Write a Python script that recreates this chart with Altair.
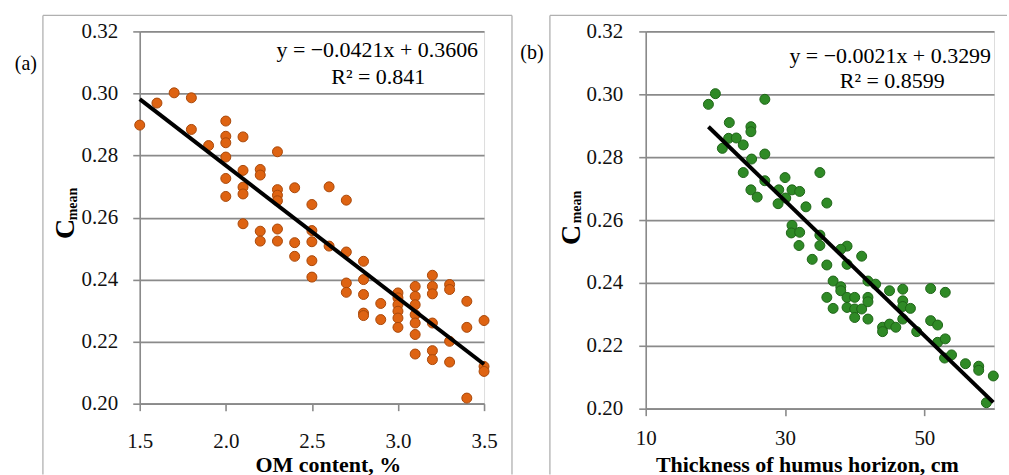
import altair as alt
import pandas as pd

# ---------------- data ----------------
om_content = [1.5, 1.6, 1.7, 1.8, 1.8, 1.9,
              2.0, 2.0, 2.0, 2.0, 2.0, 2.0,
              2.1, 2.1, 2.1, 2.1, 2.1,
              2.2, 2.2, 2.2, 2.2,
              2.3, 2.3, 2.3, 2.3, 2.3, 2.3,
              2.4, 2.4, 2.4,
              2.5, 2.5, 2.5, 2.5, 2.5,
              2.6, 2.6,
              2.7, 2.7, 2.7, 2.7,
              2.8, 2.8, 2.8, 2.8, 2.8,
              2.9, 2.9,
              3.0, 3.0, 3.0, 3.0, 3.0, 3.0,
              3.1, 3.1, 3.1, 3.1, 3.1, 3.1, 3.1,
              3.2, 3.2, 3.2, 3.2, 3.2, 3.2,
              3.3, 3.3, 3.3, 3.3,
              3.4, 3.4, 3.4,
              3.5, 3.5, 3.5]
cmean_a = [0.2898, 0.2969, 0.3002, 0.2986, 0.2884, 0.2832,
           0.2911, 0.2862, 0.2841, 0.2795, 0.2726, 0.2668,
           0.2860, 0.2752, 0.2698, 0.2676, 0.2580,
           0.2755, 0.2737, 0.2556, 0.2524,
           0.2812, 0.2690, 0.2672, 0.2654, 0.2563, 0.2524,
           0.2696, 0.2519, 0.2475,
           0.2642, 0.2558, 0.2522, 0.2461, 0.2408,
           0.2699, 0.2508,
           0.2656, 0.2489, 0.2389, 0.2359,
           0.2459, 0.2400, 0.2352, 0.2292, 0.2284,
           0.2323, 0.2271,
           0.2357, 0.2341, 0.2319, 0.2298, 0.2276, 0.2246,
           0.2378, 0.2346, 0.2319, 0.2287, 0.2260, 0.2223, 0.2160,
           0.2414, 0.2378, 0.2354, 0.2260, 0.2171, 0.2142,
           0.2384, 0.2368, 0.2201, 0.2134,
           0.2330, 0.2246, 0.2018,
           0.2268, 0.2120, 0.2104]

thickness = [19.0, 20.0, 27.1, 22.0, 21.0, 21.9, 23.0, 24.0, 25.1, 25.1,
             25.2, 27.1, 24.0, 25.1, 26.0, 27.1, 30.0, 29.1, 29.0, 30.1,
             31.0, 32.1, 33.0, 35.0, 36.0, 31.0, 30.9, 32.1, 32.0, 33.9,
             35.0, 35.0, 36.0, 36.9, 36.0, 36.9, 38.0, 38.0, 38.9, 38.0,
             38.9, 38.9, 38.9, 40.0, 40.0, 40.0, 41.0, 41.0, 41.9, 41.9,
             41.9, 41.9, 43.0, 44.0, 44.0, 45.0, 45.0, 45.9, 46.9, 46.9,
             46.9, 46.9, 48.0, 48.9, 50.9, 50.9, 51.9, 53.0, 51.9, 53.0,
             52.9, 53.9, 55.9, 57.8, 57.8, 59.9, 58.9]
cmean_b = [0.2968, 0.3002, 0.2984, 0.2910, 0.2828, 0.2860, 0.2861, 0.2839, 0.2897, 0.2881,
           0.2794, 0.2810, 0.2751, 0.2696, 0.2673, 0.2725, 0.2735, 0.2696, 0.2652, 0.2670,
           0.2696, 0.2691, 0.2642, 0.2751, 0.2654, 0.2583, 0.2559, 0.2561, 0.2519, 0.2475,
           0.2552, 0.2519, 0.2457, 0.2406, 0.2354, 0.2319, 0.2388, 0.2375, 0.2517, 0.2507,
           0.2459, 0.2354, 0.2322, 0.2354, 0.2317, 0.2290, 0.2317, 0.2485, 0.2406, 0.2354,
           0.2340, 0.2285, 0.2396, 0.2259, 0.2245, 0.2375, 0.2269, 0.2259, 0.2380, 0.2343,
           0.2325, 0.2285, 0.2319, 0.2245, 0.2382, 0.2280, 0.2266, 0.2370, 0.2211, 0.2222,
           0.2161, 0.2171, 0.2143, 0.2135, 0.2122, 0.2104, 0.2019]

y_ticks = [0.20, 0.22, 0.24, 0.26, 0.28, 0.30, 0.32]
x_ticks_a = [1.5, 2.0, 2.5, 3.0, 3.5]
x_ticks_b = [10, 30, 50]

eq_a = ["y = \u22120.0421x + 0.3606", "R\u00b2 = 0.841"]
eq_b = ["y = \u22120.0021x + 0.3299", "R\u00b2 = 0.8599"]
x_title_a = "OM content, %"
x_title_b = "Thickness of humus horizon, cm"

FONT = "Liberation Serif"
GRID = "#8a8a8a"
FRAME = "#b0b0b0"

df_a = pd.DataFrame({"x": om_content, "y": cmean_a})
df_b = pd.DataFrame({"x": thickness, "y": cmean_b})
one = pd.DataFrame({"k": [0]})


def txt(text, x, y, size=21, bold=False, angle=None, align="center", baseline="middle"):
    kw = dict(font=FONT, fontSize=size, color="black", align=align, baseline=baseline,
              fontWeight="bold" if bold else "normal", text=text)
    if angle is not None:
        kw["angle"] = angle
    return alt.Chart(one).mark_text(**kw).encode(x=alt.value(x), y=alt.value(y))


def panel(df, xdom, xticks, xfmt, w, h, xpad, ypad, fill, stroke, eq, letter, lay):
    xs = alt.Scale(domain=xdom, nice=False, zero=False)
    ys = alt.Scale(domain=[0.20, 0.32], nice=False, zero=False)
    xaxis = alt.Axis(values=xticks, format=xfmt, title=None, grid=False, labelFlush=False,
                     labelOverlap=False, tickSize=7, tickColor=GRID, tickWidth=1.6,
                     domainColor=GRID, domainWidth=1.6, labelPadding=xpad, labelFont=FONT,
                     labelFontSize=21, labelColor="#111")
    yaxis = alt.Axis(values=y_ticks, format=".2f", title=None, grid=True, gridColor=GRID,
                     gridWidth=1.8, tickSize=7, tickColor=GRID, tickWidth=1.6,
                     domainColor=GRID, domainWidth=1.6, labelPadding=ypad, labelFont=FONT,
                     labelFontSize=21, labelColor="#111", labelFlush=False, labelOverlap=False)
    pts = alt.Chart(df).mark_circle(size=100, fill=fill, stroke=stroke, strokeWidth=1,
                                    opacity=1, fillOpacity=1).encode(
        x=alt.X("x:Q", scale=xs, axis=xaxis),
        y=alt.Y("y:Q", scale=ys, axis=yaxis))
    line = alt.Chart(df).transform_regression("x", "y").mark_line(
        color="black", strokeWidth=4).encode(x="x:Q", y="y:Q")
    fl, fr, ftop, fbot = lay["frame"]
    layers = [pts, line]
    layers.append(alt.Chart(one).mark_rule(color=FRAME, strokeWidth=1.3).encode(
        x=alt.value(fl), y=alt.value(ftop), y2=alt.value(fbot)))
    layers.append(alt.Chart(one).mark_rule(color=FRAME, strokeWidth=1.3).encode(
        x=alt.value(fl), x2=alt.value(fr), y=alt.value(ftop)))
    if lay.get("right", True):
        layers.append(alt.Chart(one).mark_rule(color=FRAME, strokeWidth=1.3).encode(
            x=alt.value(fr), y=alt.value(ftop), y2=alt.value(fbot)))
    if "anchor" in lay:
        ax, ay = lay["anchor"]
        layers.append(alt.Chart(one).mark_rule(strokeOpacity=0, strokeWidth=0.1).encode(
            x=alt.value(ax), y=alt.value(ay), y2=alt.value(ay + 5)))
    layers.append(txt(eq[0], lay["eq1"][0], lay["eq1"][1], size=22))
    layers.append(txt(eq[1], lay["eq2"][0], lay["eq2"][1], size=22))
    layers.append(txt(letter, lay["letter"][0], lay["letter"][1], size=20))
    layers.append(txt("C", lay["C"][0], lay["C"][1], size=28, bold=True, angle=270))
    layers.append(txt("mean", lay["mean"][0], lay["mean"][1], size=14, bold=True, angle=270))
    layers.append(txt(lay["title"], lay["tpos"][0], lay["tpos"][1], size=22, bold=True,
                      baseline="alphabetic"))
    return alt.layer(*layers).properties(width=w, height=h)


panel_a = panel(df_a, [1.5, 3.5], x_ticks_a, ".1f", 345, 373, 20, 15,
                "#DE6312", "#A9480A", eq_a, "(a)",
                dict(frame=(-97, 373, -16, 444), anchor=(-139, -30),
                     eq1=(238, 19), eq2=(239, 46), letter=(-114, 33),
                     C=(-74, 198), mean=(-67, 173), title=x_title_a, tpos=(189, 441)))
panel_b = panel(df_b, [10, 60], x_ticks_b, "d", 349, 378, 12, 16,
                "#2F8A26", "#1F6418", eq_b, "(b)",
                dict(frame=(-96, 362, -16, 444), right=False,
                     eq1=(245, 25), eq2=(247, 50), letter=(-114, 22),
                     C=(-74, 204), mean=(-69, 176), title=x_title_b, tpos=(162, 441)))

chart = alt.hconcat(panel_a, panel_b, spacing=162, bounds="flush", padding=0).configure_view(
    stroke=None).configure(background="white")

chart.save("out.html", embed_options={"renderer": "svg", "actions": False})
